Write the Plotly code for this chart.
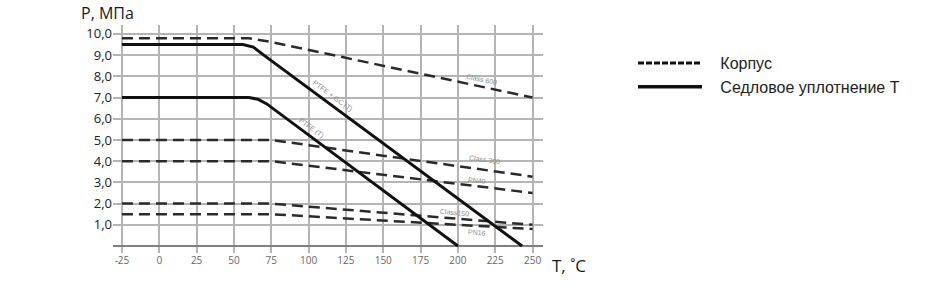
import plotly.graph_objects as go

# Body (Корпус) rating curves: temperature (°C) vs pressure (MPa)
class600_t = [-25, 60, 75, 250]
class600_p = [9.8, 9.8, 9.62, 7.0]
class300_t = [-25, 75, 250]
class300_p = [5.0, 5.0, 3.27]
pn40_t = [-25, 75, 250]
pn40_p = [4.0, 4.0, 2.5]
class150_t = [-25, 75, 250]
class150_p = [2.0, 2.0, 1.0]
pn16_t = [-25, 75, 250]
pn16_p = [1.5, 1.5, 0.8]

# Seat seal (Седловое уплотнение Т) curves
ptfe_gc_t = [-25, 56, 63, 70, 243]
ptfe_gc_p = [9.5, 9.5, 9.38, 9.0, 0.0]
ptfe_t = [-25, 60, 66, 72, 200]
ptfe_p = [7.0, 7.0, 6.92, 6.7, 0.0]

# Curve labels: (text, T, P, angle)
curve_labels = [
    ("PTFE + GC (T)", 115.8, 7.08, 36.5),
    ("PTFE (T)", 101.7, 5.57, 36.5),
    ("Class 600", 216.0, 7.83, 12),
    ("Class 300", 217.5, 4.06, 8),
    ("PN40", 212.8, 3.07, 7),
    ("Class150", 197.4, 1.60, 5),
    ("PN16", 212.8, 0.66, 5),
]

x_ticks = [-25, 0, 25, 50, 75, 100, 125, 150, 175, 200, 225, 250]
x_ticktext = ["-25", "0", "25", "50", "75", "100", "125", "150", "175", "200", "225", "250"]
y_ticks = [1, 2, 3, 4, 5, 6, 7, 8, 9, 10]
y_ticktext = ["1,0", "2,0", "3,0", "4,0", "5,0", "6,0", "7,0", "8,0", "9,0", "10,0"]

legend_body = "Корпус"
legend_seat = "Седловое уплотнение Т"

fig = go.Figure()

dash_style = dict(color="#2a2a2a", width=2.5, dash="11px,6px")
solid_style = dict(color="#111111", width=3)

body_series = [
    (class600_t, class600_p),
    (class300_t, class300_p),
    (pn40_t, pn40_p),
    (class150_t, class150_p),
    (pn16_t, pn16_p),
]
for t, p in body_series:
    fig.add_trace(go.Scatter(
        x=t, y=p, mode="lines", line=dash_style,
        legendgroup="body", showlegend=False, hoverinfo="skip"))

seat_series = [(ptfe_gc_t, ptfe_gc_p), (ptfe_t, ptfe_p)]
for t, p in seat_series:
    fig.add_trace(go.Scatter(
        x=t, y=p, mode="lines", line=solid_style,
        legendgroup="seat", showlegend=False, hoverinfo="skip"))

# legend-only entries (legend key styles differ slightly from the plotted lines)
pad = "\u00a0\u00a0\u00a0"
fig.add_trace(go.Scatter(x=[None], y=[None], mode="lines",
                         line=dict(color="#111", width=3, dash="6px,2px"),
                         name=pad + legend_body, legendgroup="body"))
fig.add_trace(go.Scatter(x=[None], y=[None], mode="lines",
                         line=dict(color="#111", width=3.5),
                         name=pad + legend_seat, legendgroup="seat"))

for text, t, p, ang in curve_labels:
    fig.add_annotation(x=t, y=p, text=text, showarrow=False, textangle=ang,
                       font=dict(family="Liberation Sans", size=7, color="#8a8a8a"))

L, R, T, B = 113, 543, 25, 253
W, H = 930, 290

def px(xp):
    return (xp - L) / (R - L)

def py(yp):
    return (B - yp) / (B - T)

fig.add_annotation(xref="paper", yref="paper", x=px(79), y=py(13),
                   xanchor="left", yanchor="middle", showarrow=False,
                   text="P, МПа", font=dict(family="Open Sans", size=16, color="#1a1a1a"))
fig.add_annotation(xref="paper", yref="paper", x=px(550), y=py(265),
                   xanchor="left", yanchor="middle", showarrow=False,
                   text="T, ˚C", font=dict(family="Open Sans", size=17, color="#1a1a1a"))

fig.update_layout(
    width=W, height=H,
    margin=dict(l=L, r=W - R, t=T, b=H - B),
    paper_bgcolor="white", plot_bgcolor="white",
    showlegend=True,
    legend=dict(x=px(633), y=py(46), xanchor="left", yanchor="top",
                font=dict(family="Liberation Sans", size=16, color="#222"),
                itemwidth=64, tracegroupgap=0, bgcolor="rgba(0,0,0,0)"),
    xaxis=dict(range=[-31, 257], tickvals=x_ticks, ticktext=x_ticktext,
               showgrid=True, gridcolor="#b4b4b4", gridwidth=1.5, zeroline=False,
               showline=False, ticks="",
               tickfont=dict(family="Open Sans", size=10, color="#666")),
    yaxis=dict(range=[-0.33, 10.42], tickvals=y_ticks, ticktext=y_ticktext,
               showgrid=True, gridcolor="#b4b4b4", gridwidth=1.5,
               zeroline=True, zerolinecolor="#808080", zerolinewidth=2,
               showline=False, ticks="",
               tickfont=dict(family="Open Sans", size=13, color="#222")),
)

fig.write_html("out.html")
